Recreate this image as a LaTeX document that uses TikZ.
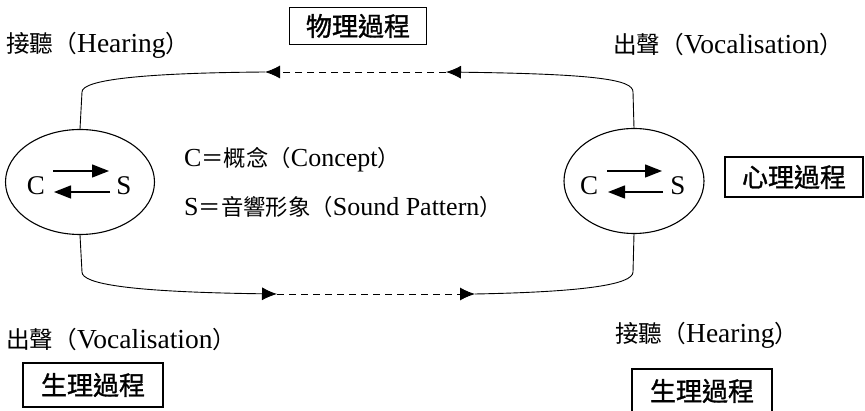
\documentclass[tikz,border=0pt]{standalone}
\usepackage{fontspec}
\setmainfont{Liberation Serif}
\newfontfamily\cjk[Scale=0.86]{Noto Sans CJK TC}
\newfontfamily\cjkb[FakeBold=1.3]{Noto Sans CJK TC}
\usetikzlibrary{shapes.geometric,arrows.meta}
\newcommand\zh[1]{{\cjk #1}}
\begin{document}
\begin{tikzpicture}[x=1pt,y=-1pt,
  ell/.style={draw,ellipse,line width=1.1pt,inner sep=0pt},
  lbl/.style={font=\fontsize{26}{30}\selectfont,inner sep=1pt},
  clbl/.style={font=\fontsize{27.5}{31}\selectfont,inner sep=1pt},
  cs/.style={font=\fontsize{27}{30}\selectfont,inner sep=1pt},
  boxlbl/.style={draw,line width=1.1pt,inner sep=0pt,font=\cjkb\fontsize{26}{30}\selectfont},
  path/.style={line width=0.9pt},
  tip/.style={-{Latex[length=15pt,width=13pt]}},
  ctip/.style={line width=1.4pt,-{Triangle[length=17pt,width=13pt]}}
]
\useasboundingbox (0,0) rectangle (865,411);

% ellipses
\node[ell,minimum width=149pt,minimum height=105pt] (eL) at (80,182) {};
\node[ell,minimum width=140pt,minimum height=105pt] (eR) at (634,181) {};

% C / S letters
\node[cs] (cL) at (36,186) {C};
\node[cs] (sL) at (124,186) {S};
\node[cs] (cR) at (589,186) {C};
\node[cs] (sR) at (678,186) {S};

\coordinate (l1a) at (53,171); \coordinate (l1b) at (109,171);
\coordinate (l2a) at (110,192); \coordinate (l2b) at (54,192);
\coordinate (r1a) at (607,171); \coordinate (r1b) at (662,171);
\coordinate (r2a) at (663,192); \coordinate (r2b) at (608,192);
\draw[ctip] (l1a) -- (l1b);
\draw[ctip] (l2a) -- (l2b);
\draw[ctip] (r1a) -- (r1b);
\draw[ctip] (r2a) -- (r2b);

% top path (right to left)
\coordinate (ta) at (446,72);
\coordinate (tb) at (265,72);
\draw[path,tip] (eR.north) -- (633,92) .. controls (633,80) and (600,74) .. (ta);
\draw[path,dash pattern=on 7pt off 5pt,tip] (ta) -- (tb);
\draw[path] (tb) .. controls (140,73) and (82,80) .. (82,92) -- (eL.north);

% bottom path (left to right)
\coordinate (ba) at (277,294);
\coordinate (bb) at (475,294);
\draw[path,tip] (eL.south) -- (82,272) .. controls (82,284) and (130,292) .. (ba);
\draw[path,dash pattern=on 7pt off 5pt,tip] (ba) -- (bb);
\draw[path] (bb) .. controls (580,292) and (633,285) .. (633,272) -- (eR.south);

% legend text
\node[lbl,anchor=west] (t1) at (183,160) {C\zh{＝概念（}Concept\zh{）}};
\node[lbl,anchor=west] (t2) at (183,207) {S\zh{＝音響形象（}Sound Pattern\zh{）}};

% corner labels
\node[clbl,anchor=west] (hTL) at (5,45) {\zh{接聽（}Hearing\zh{）}};
\node[clbl,anchor=west] (vTR) at (612,45) {\zh{出聲（}Vocalisation\zh{）}};
\node[clbl,anchor=west] (vBL) at (5,340) {\zh{出聲（}Vocalisation\zh{）}};
\node[clbl,anchor=west] (hBR) at (614,335) {\zh{接聽（}Hearing\zh{）}};

% boxed labels
\node[boxlbl,minimum width=137pt,minimum height=37pt] (b1) at (358,26) {物理過程};
\node[boxlbl,minimum width=138pt,minimum height=40pt] (b2) at (794,177) {心理過程};
\node[boxlbl,minimum width=140pt,minimum height=44pt] (b3) at (93,385) {生理過程};
\node[boxlbl,minimum width=140pt,minimum height=44pt] (b4) at (702,391) {生理過程};
\end{tikzpicture}
\end{document}
